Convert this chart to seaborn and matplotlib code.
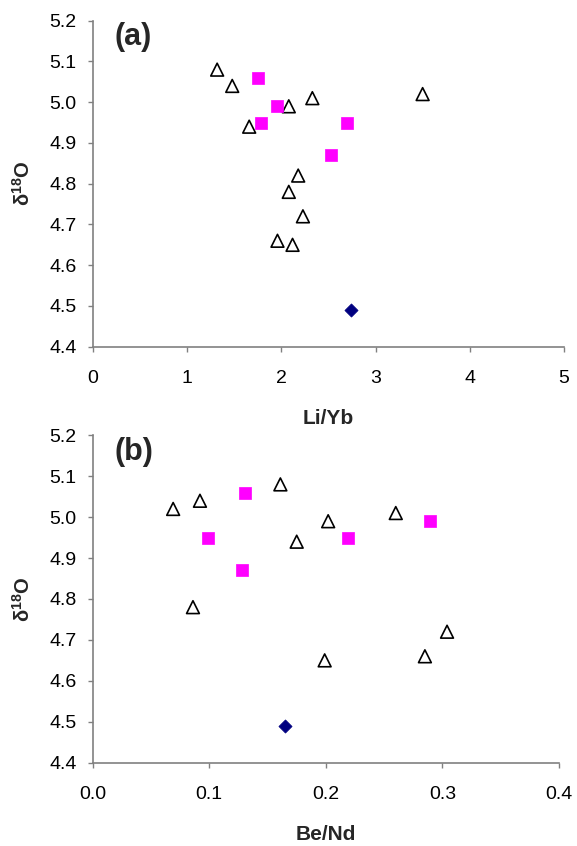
import numpy as np
import pandas as pd
import matplotlib
matplotlib.use("Agg")
import matplotlib.pyplot as plt
import seaborn as sns

sns.set_theme(style="white")
plt.rcParams['font.family'] = ['Liberation Sans', 'DejaVu Sans']
plt.rcParams['mathtext.fontset'] = 'custom'
plt.rcParams['mathtext.rm'] = 'Liberation Sans'
plt.rcParams['mathtext.bf'] = 'Liberation Sans:bold'
plt.rcParams['mathtext.it'] = 'Liberation Sans:italic'

# --- data ---
tri_d18o = [5.08, 5.04, 4.94, 4.99, 5.01, 5.02, 4.82, 4.78, 4.72, 4.66, 4.65]
tri_liyb = [1.32, 1.48, 1.66, 2.08, 2.33, 3.50, 2.18, 2.08, 2.23, 1.96, 2.12]
tri_bend = [0.161, 0.092, 0.175, 0.202, 0.260, 0.069, np.nan, 0.086, 0.304, 0.285, 0.199]

sq_d18o = [5.06, 4.99, 4.95, 4.95, 4.87]
sq_liyb = [1.75, 1.96, 1.79, 2.70, 2.53]
sq_bend = [0.131, 0.289, 0.099, 0.219, 0.128]

dia_d18o = [4.49]
dia_liyb = [2.74]
dia_bend = [0.165]

xticks_a = [0, 1, 2, 3, 4, 5]
xticks_b = [0.0, 0.1, 0.2, 0.3, 0.4]
yticks = [4.4, 4.5, 4.6, 4.7, 4.8, 4.9, 5.0, 5.1, 5.2]

fig = plt.figure(figsize=(5.77, 8.46), dpi=100)
ax_a = fig.add_axes([0.1607, 0.5902, 0.8168, 0.3853])
ax_b = fig.add_axes([0.1607, 0.0985, 0.8080, 0.3870])

gray = '#808080'

def draw(ax, tx, sx, dx, xticks, xfmt, xlabel, tag):
    sns.scatterplot(x=tx, y=tri_d18o, ax=ax, marker='^', s=85,
                    facecolor='none', edgecolor='black', linewidth=1.2, zorder=3)
    sns.scatterplot(x=sx, y=sq_d18o, ax=ax, marker='s', s=65,
                    color='#FF00FF', edgecolor='#FF00FF', linewidth=0.5, zorder=3)
    sns.scatterplot(x=dx, y=dia_d18o, ax=ax, marker='D', s=45,
                    color='#000080', edgecolor='#000080', linewidth=0.5, zorder=3)
    ax.set_xlim(xticks[0], xticks[-1])
    ax.set_ylim(4.4, 5.2)
    ax.set_xticks(xticks)
    ax.set_xticklabels([xfmt.format(v) for v in xticks], fontsize=14)
    ax.set_yticks(yticks)
    ax.set_yticklabels(['{:.1f}'.format(v) for v in yticks], fontsize=14)
    for side in ['top', 'right']:
        ax.spines[side].set_visible(False)
    for side in ['left', 'bottom']:
        ax.spines[side].set_color(gray)
        ax.spines[side].set_linewidth(1.2)
    ax.tick_params(axis='both', direction='out', length=3.6, width=1, color=gray,
                   labelcolor='black', left=True, bottom=True)
    ax.tick_params(axis='x', pad=13)
    ax.tick_params(axis='y', pad=8)
    ax.set_xlabel(xlabel, fontsize=15, fontweight='bold', labelpad=16)
    ax.set_ylabel(r'$\mathbf{\delta^{18}O}$', fontsize=14.5, labelpad=11)
    ax.text(0.047, 0.95, tag, transform=ax.transAxes, fontsize=22,
            fontweight='bold', ha='left', va='center')
    ax.set_facecolor('white')

draw(ax_a, tri_liyb, sq_liyb, dia_liyb, xticks_a, '{:d}', 'Li/Yb', '(a)')
draw(ax_b, tri_bend, sq_bend, dia_bend, xticks_b, '{:.1f}', 'Be/Nd', '(b)')

fig.savefig('out.png', dpi=100, facecolor='white')
